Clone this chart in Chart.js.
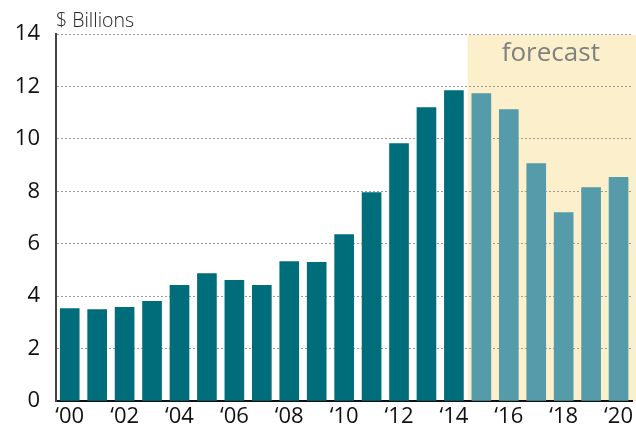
<!DOCTYPE html>
<html>
<head>
<meta charset="utf-8">
<script src="https://cdn.jsdelivr.net/npm/chart.js@4"></script>
<style>
html,body{margin:0;padding:0;background:#fff;}
#wrap{width:636px;height:431px;position:relative;}
</style>
</head>
<body>
<div id="wrap"><canvas id="c" width="636" height="431"></canvas></div>
<script>
const years = ['‘00','‘01','‘02','‘03','‘04','‘05','‘06','‘07','‘08','‘09','‘10','‘11','‘12','‘13','‘14','‘15','‘16','‘17','‘18','‘19','‘20'];
const values = [3.53,3.49,3.57,3.80,4.41,4.86,4.60,4.41,5.32,5.29,6.35,7.95,9.82,11.19,11.84,11.73,11.12,9.06,7.19,8.14,8.53];
const firstForecastIndex = 15;
const yTicks = [0,2,4,6,8,10,12,14];
const unitLabel = '$ Billions';
const forecastLabel = 'forecast';

const histColor = '#006D7A';
const fcColor = '#559BA9';
const FONT = '"Open Sans", "Noto Sans", sans-serif';

const overlay = {
  id: 'overlay',
  beforeDraw(chart) {
    const {ctx, scales:{x, y}} = chart;
    const left = (x.getPixelForValue(firstForecastIndex - 1) + x.getPixelForValue(firstForecastIndex)) / 2;
    const top = y.getPixelForValue(14) + 1;
    const bottom = y.getPixelForValue(0);
    ctx.save();
    ctx.fillStyle = '#FCF0CC';
    ctx.fillRect(left, top, chart.width - left, bottom - top);
    ctx.restore();
  },
  afterDraw(chart) {
    const {ctx, scales:{x, y}} = chart;
    ctx.save();
    ctx.fillStyle = '#222';
    ctx.font = '300 19.5px ' + FONT;
    ctx.textAlign = 'left';
    ctx.textBaseline = 'alphabetic';
    ctx.fillText(unitLabel, 56, 27);
    const left = (x.getPixelForValue(firstForecastIndex - 1) + x.getPixelForValue(firstForecastIndex)) / 2;
    ctx.fillStyle = '#808080';
    ctx.font = '26px ' + FONT;
    ctx.textAlign = 'center';
    ctx.fillText(forecastLabel, (left + chart.width) / 2 - 1, 61);
    ctx.restore();
  }
};

new Chart(document.getElementById('c'), {
  type: 'bar',
  plugins: [overlay],
  data: {
    labels: years,
    datasets: [{
      data: values,
      backgroundColor: values.map((v, i) => i >= firstForecastIndex ? fcColor : histColor),
      barThickness: 19,
      borderWidth: 0
    }]
  },
  options: {
    responsive: false,
    animation: false,
    layout: { padding: { top: 34, right: 0, left: 0, bottom: 0 } },
    plugins: { legend: { display: false }, tooltip: { enabled: false } },
    scales: {
      x: {
        offset: true,
        grid: { display: false, drawTicks: false },
        border: { display: true, color: '#111', width: 2 },
        ticks: { color: '#111', font: { family: FONT, size: 22 }, padding: 3, maxRotation: 0, autoSkip: false,
          callback: function(v, i) { return i % 2 === 0 ? years[i] : ''; } },
        afterFit(s) { s.height = 30; }
      },
      y: {
        min: 0, max: 14,
        afterBuildTicks(s) { s.ticks = yTicks.map(v => ({ value: v })); },
        grid: {
          color: (c) => c.tick && c.tick.value === 0 ? 'rgba(0,0,0,0)' : '#9a9a9a',
          lineWidth: 1,
          drawTicks: false
        },
        border: { display: true, color: '#444', width: 2, dash: [2, 2] },
        ticks: { color: '#111', font: { family: FONT, size: 22 }, padding: 16 },
        afterFit(s) { s.width = 56; }
      }
    }
  }
});
</script>
</body>
</html>
